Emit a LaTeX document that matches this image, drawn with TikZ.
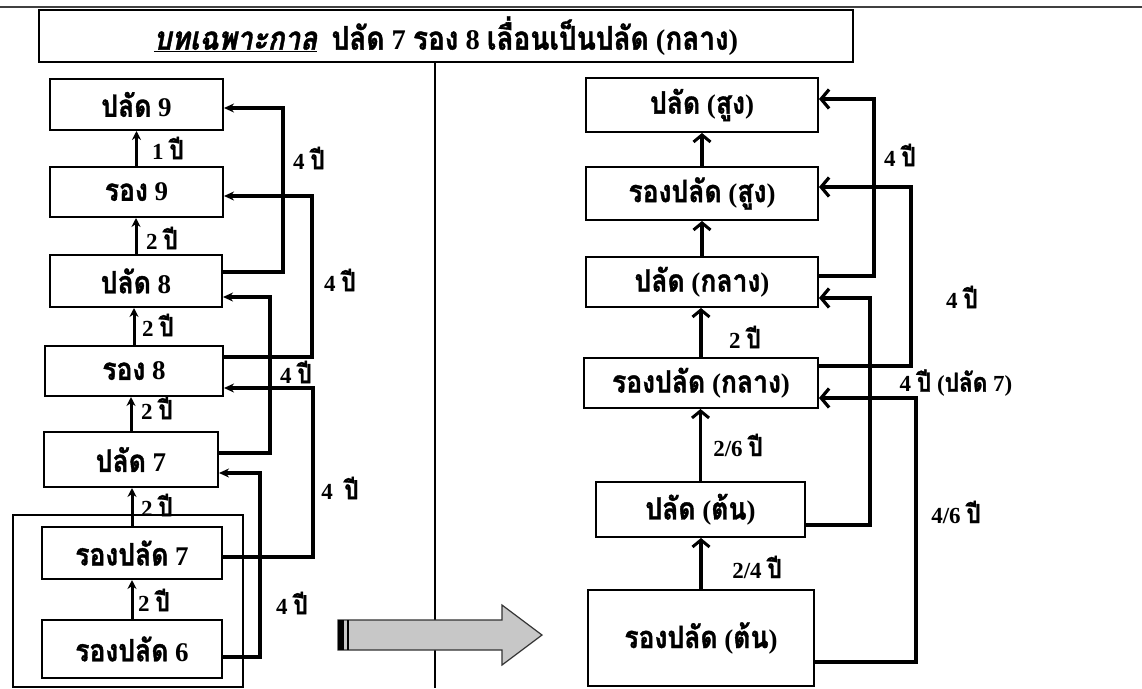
\documentclass[tikz,border=0pt]{standalone}
\usepackage{fontspec}
\setmainfont{Liberation Serif}
\newfontfamily\thai[Script=Thai,Scale=1.14,FakeStretch=0.86,BoldFeatures={FakeBold=1.2}]{Loma}
\newfontfamily\thaisl[Script=Thai,Scale=1.14,FakeStretch=0.86,FakeSlant=0.2,BoldFeatures={FakeBold=1.2}]{Loma}
\usetikzlibrary{arrows.meta,calc}
\newcommand\tf[1]{{\thai #1}}
\begin{document}
\begin{tikzpicture}[x=1pt,y=-1pt,
  boxtxt/.style={font=\bfseries\fontsize{27}{27}\selectfont},
  lbox/.style={draw, line width=2pt, inner sep=0pt, boxtxt},
  lbl/.style={font=\bfseries\fontsize{23}{23}\selectfont, inner sep=0pt},
  larr/.style={line width=3pt, -{Stealth[length=9pt,width=9pt]}},
  lconn/.style={line width=3.2pt, -{Stealth[length=10pt,width=9pt]}},
  rarr/.style={line width=3.8pt, -{Straight Barb[length=7pt,width=17pt,line width=3pt]}},
  rconn/.style={line width=4.4pt, -{Straight Barb[length=8pt,width=19pt,line width=3.2pt]}}]
\useasboundingbox (0,0) rectangle (1142,688);
\fill[white] (0,0) rectangle (1142,688);
% page top line and title
\draw[line width=1.5pt, black!75] (0,7) -- (1142,7);
\node[lbox, minimum width=814pt, minimum height=52pt, font=\bfseries\fontsize{28.5}{28.5}\selectfont] (title) at (446,36)
  {\underline{\thaisl บทเฉพาะกาล}\ \ \tf{ปลัด} 7 \tf{รอง} 8 \tf{เลื่อนเป็นปลัด} (\tf{กลาง})};
% divider
\coordinate (dtop) at (435,62);
\coordinate (dbot) at (435,688);
\draw[line width=2.4pt] (dtop) -- (dbot);
% left column
\node[draw, line width=2pt, minimum width=230pt, minimum height=172pt, inner sep=0pt] (grp) at (128,601) {};
\node[lbox, minimum width=173pt, minimum height=51pt] (p9) at (136.5,104.5) {\tf{ปลัด} 9};
\node[lbox, minimum width=173pt, minimum height=50pt] (r9) at (136.5,192) {\tf{รอง} 9};
\node[lbox, minimum width=172pt, minimum height=52pt] (p8) at (136,281) {\tf{ปลัด} 8};
\node[lbox, minimum width=178pt, minimum height=50pt] (r8) at (134,371) {\tf{รอง} 8};
\node[lbox, minimum width=174pt, minimum height=55pt] (p7) at (131,459.5) {\tf{ปลัด} 7};
\node[lbox, minimum width=180pt, minimum height=52pt] (rp7) at (132,553) {\tf{รองปลัด} 7};
\node[lbox, minimum width=180pt, minimum height=58pt] (rp6) at (132,649) {\tf{รองปลัด} 6};
% left vertical arrows
\draw[larr] (r9.north) -- (r9.north |- p9.south);
\draw[larr] (p8.north) -- (p8.north |- r9.south);
\draw[larr] (r8.north) -- (r8.north |- p8.south);
\draw[larr] (p7.north) -- (p7.north |- r8.south);
\draw[larr] (rp7.north) -- (rp7.north |- p7.south);
\draw[larr] (rp6.north) -- (rp6.north |- rp7.south);
\node[lbl] (l1) at (168,148) {1 \tf{ปี}};
\node[lbl] (l2) at (162,238) {2 \tf{ปี}};
\node[lbl] (l3) at (158,325) {2 \tf{ปี}};
\node[lbl] (l4) at (157,408) {2 \tf{ปี}};
\node[lbl] (l5) at (157,505) {2 \tf{ปี}};
\node[lbl] (l6) at (154,600) {2 \tf{ปี}};
% left skip connectors
\draw[lconn] ([yshift=9pt]p8.east) -| (283,108) -- ([yshift=-3.5pt]p9.east);
\draw[lconn] ([yshift=14pt]r8.east) -| (312,196) -- ([yshift=-4pt]r9.east);
\draw[lconn] ([yshift=6.5pt]p7.east) -| (270,297) -- ([yshift=-16pt]p8.east);
\draw[lconn] ([yshift=-4pt]rp7.east) -| (313,388) -- ([yshift=-17pt]r8.east);
\draw[lconn] ([yshift=-8pt]rp6.east) -| (260,473) -- ([yshift=-13.5pt]p7.east);
\node[lbl] (s1) at (309,158) {4 \tf{ปี}};
\node[lbl] (s2) at (340,280) {4 \tf{ปี}};
\node[lbl] (s3) at (296,372) {4 \tf{ปี}};
\node[lbl] (s4) at (340,488) {4\ \ \tf{ปี}};
\node[lbl] (s5) at (292,603) {4 \tf{ปี}};
% gray block arrow
\coordinate (ga) at (338,620);
\filldraw[fill=black!22, draw=black!80, line width=1.2pt]
  (ga) -- (502,620) -- (502,605) -- (542,635) -- (502,665) -- (502,650) -- (338,650) -- cycle;
\fill[black] (338,620) rectangle (344,650);
\fill[black] (347,620) rectangle (349,650);
% right column
\node[lbox, minimum width=232pt, minimum height=54pt] (ph) at (702,105) {\tf{ปลัด} (\tf{สูง})};
\node[lbox, minimum width=232pt, minimum height=53pt] (rph) at (702,193.5) {\tf{รองปลัด} (\tf{สูง})};
\node[lbox, minimum width=232pt, minimum height=50pt] (pm) at (702,282) {\tf{ปลัด} (\tf{กลาง})};
\node[lbox, minimum width=234pt, minimum height=50pt] (rpm) at (701,383) {\tf{รองปลัด} (\tf{กลาง})};
\node[lbox, minimum width=209pt, minimum height=55pt] (pl) at (700.5,509.5) {\tf{ปลัด} (\tf{ต้น})};
\node[lbox, minimum width=226pt, minimum height=96pt] (rpl) at (701,638) {\tf{รองปลัด} (\tf{ต้น})};
% right vertical arrows
\draw[rarr] (rph.north) -- (rph.north |- ph.south);
\draw[rarr] (pm.north) -- (pm.north |- rph.south);
\draw[rarr] (rpm.north) -- (rpm.north |- pm.south);
\draw[rarr] (pl.north) -- (pl.north |- rpm.south);
\draw[rarr] (rpl.north) -- (rpl.north |- pl.south);
\node[lbl] (m1) at (745,337) {2 \tf{ปี}};
\node[lbl] (m2) at (738,445) {2/6 \tf{ปี}};
\node[lbl] (m3) at (757,567) {2/4 \tf{ปี}};
% right skip connectors
\draw[rconn] ([yshift=6pt]pm.east) -| (874,99) -- ([yshift=6pt]ph.east);
\draw[rconn] ([yshift=17pt]rpm.east) -| (911,187) -- ([yshift=6.5pt]rph.east);
\draw[rconn] ([yshift=-15.5pt]pl.east) -| (870,298) -- ([yshift=-16pt]pm.east);
\draw[rconn] ([yshift=-24pt]rpl.east) -| (916,398) -- ([yshift=-15pt]rpm.east);
\node[lbl] (t1) at (900,155) {4 \tf{ปี}};
\node[lbl] (t2) at (962,297) {4 \tf{ปี}};
\node[lbl] (t3) at (956,383) {4 \tf{ปี} (\tf{ปลัด} 7)};
\node[lbl] (t4) at (956,512) {4/6 \tf{ปี}};
\end{tikzpicture}
\end{document}
